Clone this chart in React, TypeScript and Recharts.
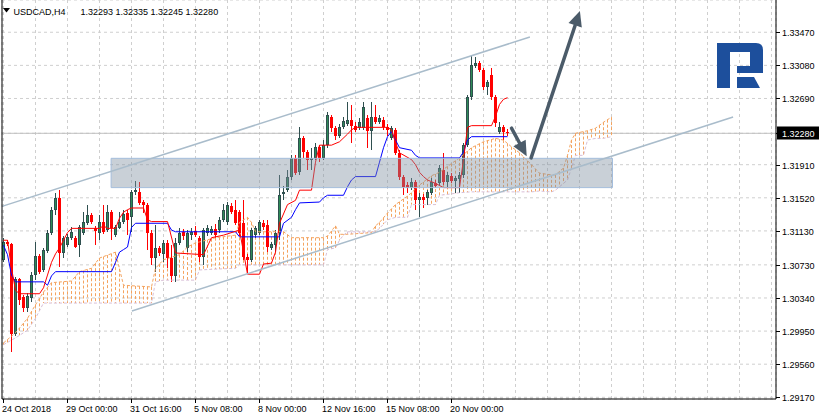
import React from "react";
import {
  ComposedChart,
  Bar,
  Line,
  XAxis,
  YAxis,
  CartesianGrid,
  ReferenceLine,
  ReferenceArea,
} from "recharts";

const symbol = "USDCAD,H4";

// H4 candles, oldest first
const open = [
  1.3079, 1.31, 1.3098, 1.2992, 1.3056, 1.3035, 1.3022, 1.3034, 1.3061, 1.3083,
  1.3067, 1.3089, 1.3111, 1.3138, 1.3152, 1.3087, 1.3096, 1.3105, 1.3105, 1.3096,
  1.3111, 1.3122, 1.3132, 1.3116, 1.3111, 1.3124, 1.3114, 1.3135, 1.3108, 1.3116,
  1.3124, 1.3134, 1.3129, 1.3159, 1.3159, 1.3147, 1.3144, 1.3111, 1.3081, 1.3093,
  1.3086, 1.3099, 1.3081, 1.306, 1.3099, 1.3112, 1.3093, 1.3108, 1.3113, 1.3105,
  1.3082, 1.3111, 1.3111, 1.3115, 1.3114, 1.3126, 1.3124, 1.3142, 1.3138, 1.3135,
  1.3122, 1.3082, 1.3079, 1.3108, 1.3111, 1.3122, 1.312, 1.3093, 1.3096, 1.3111,
  1.3157, 1.3161, 1.3177, 1.3199, 1.3182, 1.3222, 1.3206, 1.3197, 1.3199, 1.3212,
  1.3199, 1.3214, 1.3247, 1.3234, 1.3225, 1.3235, 1.3239, 1.3244, 1.3237, 1.3234,
  1.3234, 1.3246, 1.3231, 1.3247, 1.3241, 1.3244, 1.3235, 1.3222, 1.3232, 1.3205,
  1.3177, 1.3167, 1.3164, 1.3171, 1.3149, 1.3153, 1.3152, 1.3158, 1.3169, 1.3169,
  1.3185, 1.3171, 1.3178, 1.3172, 1.3174, 1.3179, 1.3214, 1.3271, 1.3307, 1.3311,
  1.3303, 1.3283, 1.3297, 1.3271, 1.323, 1.3235, 1.32293,
];
const high = [
  1.3105, 1.3102, 1.3099, 1.3059, 1.3058, 1.3038, 1.304, 1.3065, 1.31, 1.3086,
  1.3093, 1.3114, 1.3141, 1.3158, 1.3161, 1.3107, 1.3109, 1.3118, 1.3107, 1.312,
  1.3135, 1.3144, 1.3134, 1.3119, 1.3132, 1.3144, 1.3144, 1.3138, 1.312, 1.3135,
  1.3138, 1.3138, 1.3161, 1.3172, 1.3171, 1.3149, 1.3146, 1.3114, 1.312, 1.3095,
  1.3102, 1.3102, 1.3096, 1.3105, 1.3116, 1.3115, 1.3114, 1.3116, 1.3119, 1.3107,
  1.3116, 1.312, 1.3119, 1.3121, 1.3129, 1.3145, 1.3147, 1.3146, 1.3149, 1.3138,
  1.3149, 1.3086, 1.3116, 1.3119, 1.3126, 1.3126, 1.3126, 1.31, 1.3114, 1.3179,
  1.3166, 1.3185, 1.3202, 1.3202, 1.3235, 1.3225, 1.3208, 1.3211, 1.3217, 1.3214,
  1.322, 1.3253, 1.325, 1.3237, 1.3239, 1.3247, 1.3265, 1.3261, 1.3241, 1.3246,
  1.3265, 1.325, 1.3265, 1.3261, 1.325, 1.3247, 1.3239, 1.3237, 1.3234, 1.3208,
  1.3179, 1.3171, 1.3175, 1.3173, 1.3158, 1.3157, 1.3161, 1.3175, 1.3173, 1.3191,
  1.3205, 1.3182, 1.3181, 1.3178, 1.3182, 1.3217, 1.3273, 1.332, 1.3318, 1.3313,
  1.3305, 1.3291, 1.3305, 1.3273, 1.3241, 1.3238, 1.32335,
];
const low = [
  1.3076, 1.3095, 1.297, 1.2989, 1.3026, 1.3018, 1.3018, 1.3029, 1.3055, 1.3062,
  1.3065, 1.3087, 1.3108, 1.3132, 1.307, 1.3081, 1.3094, 1.3102, 1.3093, 1.3082,
  1.3108, 1.312, 1.3121, 1.3096, 1.3102, 1.3109, 1.3112, 1.3102, 1.3106, 1.3115,
  1.3121, 1.3108, 1.3112, 1.3155, 1.3144, 1.3134, 1.3091, 1.3073, 1.3065, 1.3083,
  1.3076, 1.3069, 1.3053, 1.3053, 1.3096, 1.3102, 1.3088, 1.3102, 1.3106, 1.3076,
  1.3073, 1.3107, 1.3108, 1.3105, 1.3111, 1.3124, 1.312, 1.3133, 1.312, 1.3107,
  1.3079, 1.3063, 1.3076, 1.3105, 1.3108, 1.3114, 1.3088, 1.3091, 1.3088, 1.3102,
  1.3149, 1.3159, 1.3173, 1.3179, 1.3179, 1.3199, 1.3185, 1.3185, 1.3197, 1.3194,
  1.3197, 1.3211, 1.323, 1.322, 1.3222, 1.3233, 1.3237, 1.3217, 1.323, 1.3232,
  1.3232, 1.3211, 1.3208, 1.3239, 1.3239, 1.3232, 1.3225, 1.322, 1.3202, 1.3173,
  1.3155, 1.3158, 1.3161, 1.3138, 1.3129, 1.314, 1.3144, 1.3155, 1.3164, 1.3167,
  1.3167, 1.3165, 1.3169, 1.3158, 1.3158, 1.3175, 1.3212, 1.3267, 1.3305, 1.33,
  1.3279, 1.3273, 1.3267, 1.3235, 1.3227, 1.322, 1.32245,
];
const close = [
  1.31, 1.3098, 1.2992, 1.3056, 1.3032, 1.3022, 1.3036, 1.3061, 1.3083, 1.3065,
  1.3091, 1.3111, 1.3138, 1.3152, 1.3087, 1.3105, 1.3106, 1.3112, 1.3094, 1.3118,
  1.3124, 1.3132, 1.3124, 1.3113, 1.3124, 1.3112, 1.3135, 1.3116, 1.3118, 1.3124,
  1.3133, 1.3126, 1.3159, 1.3161, 1.3146, 1.3144, 1.3111, 1.3081, 1.3093, 1.3087,
  1.3099, 1.3081, 1.306, 1.3099, 1.3111, 1.3107, 1.3111, 1.3112, 1.3108, 1.3082,
  1.3114, 1.3116, 1.3115, 1.3108, 1.3126, 1.3138, 1.3144, 1.3135, 1.3122, 1.3111,
  1.3082, 1.3079, 1.3114, 1.3116, 1.3124, 1.3118, 1.3094, 1.3098, 1.3111, 1.3155,
  1.3159, 1.3177, 1.3199, 1.3181, 1.3222, 1.3206, 1.3197, 1.3199, 1.3212, 1.3199,
  1.3214, 1.325, 1.3234, 1.3225, 1.3235, 1.3242, 1.3244, 1.3237, 1.3232, 1.3241,
  1.3259, 1.3231, 1.3247, 1.3241, 1.3246, 1.3235, 1.3232, 1.3234, 1.3205, 1.3177,
  1.3165, 1.3164, 1.3171, 1.3149, 1.3153, 1.3149, 1.3159, 1.3171, 1.3166, 1.3187,
  1.3171, 1.3179, 1.3172, 1.3175, 1.3179, 1.3214, 1.3271, 1.3308, 1.3311, 1.3303,
  1.3283, 1.3288, 1.3271, 1.324, 1.3235, 1.323, 1.3228,
];

// Ichimoku lines, read as [bar, price] vertices
const tenkan = [
  [0, 1.3102], [1, 1.3102], [2, 1.3069], [3, 1.3043], [4, 1.3039], [9, 1.3039], [10, 1.3046],
  [11, 1.3061], [12, 1.3076], [13, 1.3086], [14, 1.3093], [15, 1.3102], [16, 1.3111], [17, 1.3116],
  [24, 1.3116], [25, 1.3119], [26, 1.3116], [28, 1.3116], [29, 1.3128], [30, 1.3135], [31, 1.3138],
  [32, 1.314], [35, 1.314], [36, 1.3126], [37, 1.3124], [41, 1.3124], [43, 1.3087], [50, 1.3085],
  [52, 1.3105], [55, 1.3108], [59, 1.3114], [60, 1.3088], [61, 1.3062], [64, 1.3062], [65, 1.3074],
  [67, 1.3075], [68, 1.3088], [69, 1.3122], [71, 1.3144], [73, 1.3149], [74, 1.3161], [77, 1.3161],
  [78, 1.3194], [79, 1.3214], [82, 1.3214], [84, 1.3218], [86, 1.3227], [87, 1.3232], [88, 1.3235],
  [96, 1.3235], [97, 1.3232], [98, 1.3217], [99, 1.3205], [102, 1.3197], [103, 1.3191], [104, 1.3182],
  [105, 1.3177], [106, 1.3173], [108, 1.3169], [110, 1.3164], [114, 1.3164], [115, 1.3197],
  [116, 1.3235], [117, 1.3237], [122, 1.3237], [123, 1.3248], [124, 1.3262], [125, 1.3268], [126, 1.327],
];
const kijun = [
  [0, 1.3096], [1, 1.3085], [2, 1.3061], [3, 1.3053], [10, 1.3053], [11, 1.3049], [12, 1.306],
  [13, 1.3065], [27, 1.3065], [28, 1.3076], [29, 1.3088], [30, 1.3091], [31, 1.3094], [32, 1.3117],
  [33, 1.3122], [41, 1.3122], [42, 1.3114], [43, 1.3112], [58, 1.3112], [59, 1.3106], [69, 1.3106],
  [70, 1.3122], [72, 1.3129], [73, 1.3138], [74, 1.3146], [79, 1.3147], [80, 1.3152], [81, 1.3155],
  [85, 1.3155], [86, 1.3165], [87, 1.3173], [88, 1.3177], [93, 1.3177], [94, 1.3194], [95, 1.3211],
  [96, 1.3224], [97, 1.323], [98, 1.322], [99, 1.3211], [102, 1.3208], [103, 1.3202], [104, 1.3199],
  [114, 1.3199], [115, 1.3206], [116, 1.322], [117, 1.3224], [126, 1.3224],
];
// [bar, senkou span A, senkou span B]
const cloud = [
  [0, 1.2981, 1.2979], [3, 1.2993, 1.2987], [6, 1.301, 1.2996], [8, 1.3026, 1.301],
  [10, 1.3041, 1.3028], [12, 1.3052, 1.3028], [17, 1.3054, 1.3028], [19, 1.3065, 1.3028],
  [22, 1.3069, 1.3028], [24, 1.3081, 1.3028], [28, 1.3088, 1.3028], [30, 1.3049, 1.3028],
  [37, 1.3047, 1.3028], [38, 1.3069, 1.3053], [40, 1.3079, 1.3055], [44, 1.3085, 1.3055],
  [46, 1.3094, 1.3055], [48, 1.3099, 1.3055], [49, 1.31, 1.3067], [53, 1.3105, 1.3068],
  [58, 1.3108, 1.3069], [59, 1.3123, 1.3073], [61, 1.3129, 1.3073], [62, 1.3123, 1.3073],
  [63, 1.3112, 1.3073], [70, 1.3112, 1.3073], [72, 1.3105, 1.3073], [80, 1.3105, 1.3073],
  [81, 1.3107, 1.3091], [83, 1.3119, 1.3093], [84, 1.3109, 1.3102], [85, 1.3109, 1.3108],
  [86, 1.3109, 1.3112], [92, 1.3111, 1.3112], [93, 1.3119, 1.3112], [94, 1.3123, 1.3116],
  [96, 1.3134, 1.3126], [98, 1.3144, 1.3129], [101, 1.3154, 1.3129], [102, 1.3158, 1.3144],
  [104, 1.3167, 1.3144], [107, 1.3178, 1.3144], [108, 1.318, 1.3144], [109, 1.3182, 1.3155],
  [111, 1.3189, 1.3156], [114, 1.3199, 1.3158], [117, 1.3211, 1.3159], [120, 1.3218, 1.3159],
  [123, 1.3222, 1.3159], [125, 1.322, 1.3159], [127, 1.3212, 1.3159], [129, 1.3205, 1.3159],
  [132, 1.3191, 1.3159], [134, 1.3181, 1.316], [137, 1.3179, 1.3159], [138, 1.3179, 1.3161],
  [140, 1.3187, 1.3169], [141, 1.3202, 1.3173], [142, 1.322, 1.3187], [143, 1.3228, 1.3202],
  [145, 1.323, 1.3202], [146, 1.3231, 1.322], [148, 1.3234, 1.3222], [150, 1.3241, 1.3222],
  [152, 1.3247, 1.3224],
];

const priceTicks = [1.3347, 1.3308, 1.3269, 1.3191, 1.3152, 1.3113, 1.3073, 1.3034, 1.2995, 1.2956, 1.2917];
const timeLabels = ["24 Oct 2018", "29 Oct 00:00", "31 Oct 16:00", "5 Nov 08:00", "8 Nov 00:00", "12 Nov 16:00", "15 Nov 08:00", "20 Nov 00:00"];
const barsPerLabel = 16;

// drawn objects, in bar / price units
const zone = { x1: 26.9, x2: 152.25, y1: 1.3164, y2: 1.31985 };
const channelTop: [number, number][] = [[-0.375, 1.31419], [131.6, 1.33414]];
const channelBottom: [number, number][] = [[32.1, 1.30186], [182.4, 1.32472]];
const arrowDown: [number, number][] = [[127.0, 1.3234], [130.8, 1.3201]];
const arrowUp: [number, number][] = [[131.9, 1.3199], [144.1, 1.3372]];

const Y_MIN = 1.2915;
const Y_MAX = 1.3385;

const last = close.length - 1;
const lastClose = close[last];

const candleRows = open.map((o, i) => ({
  i,
  o,
  h: high[i],
  l: low[i],
  c: close[i],
  range: [low[i], high[i]],
}));
const tenkanRows = tenkan.map(([i, v]) => ({ i, v }));
const kijunRows = kijun.map(([i, v]) => ({ i, v }));
const cloudRows = cloud.map(([i, a, b]) => ({ i, a, b }));

const FONT = "'Liberation Sans', Arial, sans-serif";
const BULL = "#2E8B57";
const BULL_LINE = "#2F4F4F";
const BEAR = "#FF0000";
const SPAN_A = "#F4A460";
const SPAN_B = "#D8BFD8";

function Candle(props: any) {
  const { x, y, width, height, payload } = props;
  if (!payload || payload.o == null) return null;
  const top = Math.min(y, y + height);
  const bottom = Math.max(y, y + height);
  const k = (bottom - top) / (payload.h - payload.l || 1);
  const py = (p: number) => top + (payload.h - p) * k;
  const cx = Math.floor(x + width / 2) + 0.5;
  const up = payload.c >= payload.o;
  let bTop = Math.round(py(Math.max(payload.o, payload.c)));
  let bBot = Math.round(py(Math.min(payload.o, payload.c)));
  if (bBot - bTop < 1) bBot = bTop + 1;
  const wTop = Math.round(top);
  const wBot = Math.round(bottom);
  if (up) {
    return (
      <g>
        <line x1={cx} x2={cx} y1={wTop} y2={wBot} stroke={BULL_LINE} strokeWidth={1} />
        <rect x={cx - 1} y={bTop + 0.5} width={2} height={Math.max(bBot - bTop - 1, 0.01)} fill={BULL} stroke={BULL_LINE} strokeWidth={1} />
      </g>
    );
  }
  return (
    <g>
      <line x1={cx} x2={cx} y1={wTop} y2={wBot} stroke={BEAR} strokeWidth={1} />
      <rect x={cx - 1.5} y={bTop} width={3} height={bBot - bTop} fill={BEAR} />
    </g>
  );
}

// dotted vertical hatch between span A and span B, one stroke per bar,
// drawn inside the box that covers the cloud's bar range
function CloudHatch(props: any) {
  const { x, y, width, height } = props;
  const first = cloud[0][0];
  const lastBar = cloud[cloud.length - 1][0];
  const top = Math.min(y, y + height);
  const h = Math.abs(height);
  const px = (i: number) => x + ((i - first) / (lastBar - first)) * width;
  const py = (p: number) => top + ((Y_MAX - p) / (Y_MAX - Y_MIN)) * h;
  const out: React.ReactNode[] = [];
  let seg = 0;
  for (let b = first; b <= lastBar; b++) {
    while (seg < cloud.length - 2 && cloud[seg + 1][0] < b) seg++;
    const [ia, aa, ba] = cloud[seg];
    const [ib, ab, bb] = cloud[seg + 1];
    const t = (b - ia) / (ib - ia);
    const a = aa + (ab - aa) * t;
    const s = ba + (bb - ba) * t;
    const xx = Math.floor(px(b)) + 0.5;
    out.push(
      <line
        key={b}
        x1={xx}
        x2={xx}
        y1={py(Math.max(a, s))}
        y2={py(Math.min(a, s))}
        stroke={a >= s ? SPAN_A : SPAN_B}
        strokeWidth={1}
        strokeDasharray="3 2"
      />
    );
  }
  return <g>{out}</g>;
}

function PriceTick({ x, y, payload }: any) {
  const v = payload.value as number;
  const isLast = Math.abs(v - lastClose) < 1e-9;
  const yy = Math.round(y) + 0.5;
  return (
    <g>
      <line x1={x} x2={x + 4} y1={yy} y2={yy} stroke="#000" />
      {isLast && <rect x={x + 1} y={yy - 7} width={43} height={13} fill="#000" />}
      <text x={x + 6} y={yy + 3.5} fontSize={9} fontFamily={FONT} fill={isLast ? "#fff" : "#000"}>
        {v.toFixed(5)}
      </text>
    </g>
  );
}

function TimeTick({ x, y, payload }: any) {
  const v = payload.value as number;
  const k = v / barsPerLabel;
  if (!Number.isInteger(k) || k >= timeLabels.length) return null;
  const xx = Math.floor(x) + 0.5;
  return (
    <g>
      <line x1={xx} x2={xx} y1={y} y2={y + 4} stroke="#000" />
      <text x={x - 1.5} y={y + 12.5} fontSize={9} fontFamily={FONT} fill="#000">
        {timeLabels[k]}
      </text>
    </g>
  );
}

function ArrowShape(props: any) {
  const { x1, y1, x2, y2 } = props;
  const a = Math.atan2(y2 - y1, x2 - x1);
  const len = 15;
  const half = 7;
  const bx = x2 - len * Math.cos(a);
  const by = y2 - len * Math.sin(a);
  const px = Math.sin(a) * half;
  const py = -Math.cos(a) * half;
  return (
    <g>
      <line x1={x1} y1={y1} x2={bx} y2={by} stroke="#4B5B69" strokeWidth={3.5} strokeLinecap="round" />
      <polygon points={`${x2},${y2} ${bx + px},${by + py} ${bx - px},${by - py}`} fill="#4B5B69" />
    </g>
  );
}

const xTicks = Array.from({ length: 25 }, (_, k) => k * 8);

export default function App() {
  const o = open[last], h = high[last], l = low[last], c = close[last];
  return (
    <div style={{ position: "absolute", left: 0, top: 0, width: 819, height: 418, background: "#fff" }}>
      <ComposedChart
        width={819}
        height={418}
        data={candleRows}
        margin={{ top: 0, right: 0, bottom: 0, left: 2 }}
      >
        <CartesianGrid stroke="#cfcfcf" strokeDasharray="3 3" />
        <XAxis
          dataKey="i"
          type="number"
          domain={[-0.375, 193.125]}
          allowDataOverflow
          ticks={xTicks}
          interval={0}
          height={19}
          tickSize={0}
          tickMargin={0}
          tickLine={false}
          axisLine={{ stroke: "#000" }}
          tick={<TimeTick />}
        />
        <YAxis
          type="number"
          orientation="right"
          domain={[Y_MIN, Y_MAX]}
          allowDataOverflow
          ticks={[...priceTicks, lastClose]}
          interval={0}
          width={43}
          tickSize={0}
          tickMargin={0}
          tickLine={false}
          axisLine={{ stroke: "#000" }}
          tick={<PriceTick />}
        />
        <ReferenceLine y={lastClose} stroke="#c0c0c0" strokeWidth={1} zIndex={-50} />
        <ReferenceArea
          x1={cloud[0][0]}
          x2={cloud[cloud.length - 1][0]}
          y1={Y_MIN}
          y2={Y_MAX}
          shape={CloudHatch}
          zIndex={100}
        />
        <Bar dataKey="range" barSize={3} shape={<Candle />} isAnimationActive={false} zIndex={300} />
        <Line data={cloudRows} dataKey="a" type="linear" stroke={SPAN_A} strokeDasharray="3 2" strokeWidth={1} dot={false} activeDot={false} isAnimationActive={false} zIndex={400} />
        <Line data={cloudRows} dataKey="b" type="linear" stroke={SPAN_B} strokeDasharray="3 2" strokeWidth={1} dot={false} activeDot={false} isAnimationActive={false} zIndex={400} />
        <Line data={kijunRows} dataKey="v" type="linear" stroke="#0000FF" strokeWidth={1} dot={false} activeDot={false} isAnimationActive={false} zIndex={410} />
        <Line data={tenkanRows} dataKey="v" type="linear" stroke="#FF0000" strokeWidth={1} dot={false} activeDot={false} isAnimationActive={false} zIndex={420} />
        <ReferenceArea
          x1={zone.x1}
          x2={zone.x2}
          y1={zone.y1}
          y2={zone.y2}
          fill="#7f8fa0"
          fillOpacity={0.42}
          stroke="#a4bddc"
          strokeWidth={1}
          zIndex={450}
        />
        <ReferenceLine segment={channelTop.map(([x, y]) => ({ x, y }))} stroke="#a9bccb" strokeWidth={1.5} zIndex={460} />
        <ReferenceLine segment={channelBottom.map(([x, y]) => ({ x, y }))} stroke="#a9bccb" strokeWidth={1.5} zIndex={460} />
        <ReferenceLine segment={arrowDown.map(([x, y]) => ({ x, y }))} shape={ArrowShape} zIndex={470} />
        <ReferenceLine segment={arrowUp.map(([x, y]) => ({ x, y }))} shape={ArrowShape} zIndex={470} />
        <ReferenceLine x={-0.375} stroke="#000" strokeWidth={1} zIndex={480} />
      </ComposedChart>
      <svg width={819} height={418} style={{ position: "absolute", left: 0, top: 0, pointerEvents: "none" }}>
        <polygon points="3,8 10,8 6.5,12.5" fill="#000" />
        <text x={13.5} y={14.5} fontSize={9} fontFamily={FONT} fill="#000">
          {symbol}
        </text>
        <text x={80.5} y={14.5} fontSize={9} fontFamily={FONT} fill="#000">
          {`${o.toFixed(5)} ${h.toFixed(5)} ${l.toFixed(5)} ${c.toFixed(5)}`}
        </text>
        <path d="M717,43 L756,43 Q763,43 763,50 L763,73 L737,73 L737,66 L750,66 L750,52 L730,52 L730,88 L717,88 Z" fill="#1d4f9c" />
        <path d="M737,77 L754,77 L760,88 L737,88 Z" fill="#1d4f9c" />
      </svg>
    </div>
  );
}
